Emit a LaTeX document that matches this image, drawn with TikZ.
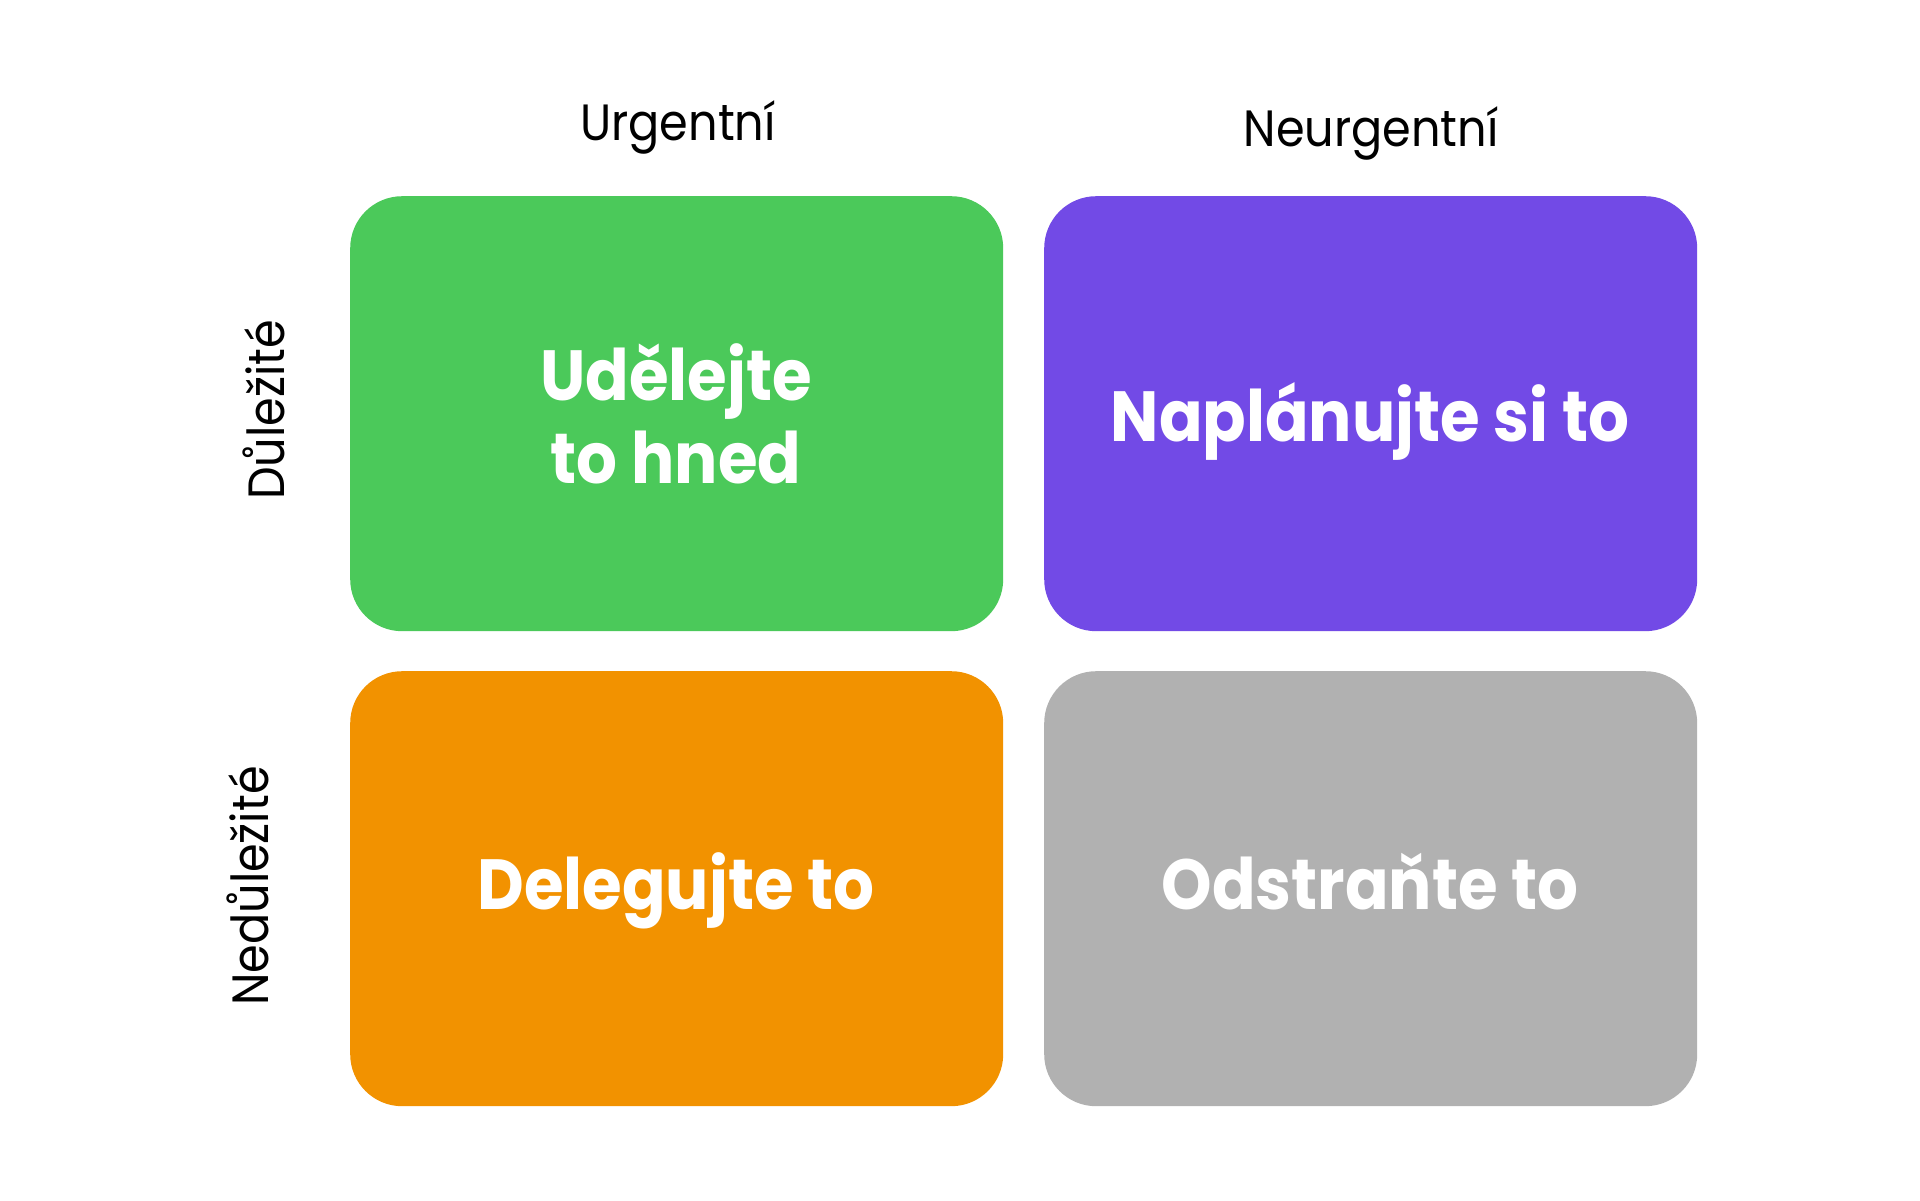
\documentclass[tikz,border=0pt]{standalone}
\usepackage{fontspec}
\setmainfont{Poppins}[FakeStretch=0.905]
\definecolor{qgreen}{HTML}{4BC95A}
\definecolor{qpurple}{HTML}{724AE6}
\definecolor{qorange}{HTML}{F29200}
\definecolor{qgray}{HTML}{B1B1B1}
\tikzset{
  quad/.style={rounded corners=52pt, minimum width=653pt, minimum height=435pt, inner sep=0pt, draw=none, anchor=north west},
  qlabel/.style={text=white, font=\bfseries\fontsize{71}{85}\selectfont, anchor=base, inner sep=0pt},
  hlabel/.style={text=black, font=\fontsize{51}{60}\selectfont, anchor=base, inner sep=0pt}
}
\begin{document}
\begin{tikzpicture}[x=1pt,y=-1pt]
\useasboundingbox[fill=white] (0,0) rectangle (1920,1200);
\node[quad, fill=qgreen] (q1) at (350,196) {};
\node[quad, fill=qpurple] (q2) at (1044,196) {};
\node[quad, fill=qorange] (q3) at (350,671) {};
\node[quad, fill=qgray] (q4) at (1044,671) {};
\node[qlabel] (t1a) at (676,400) {Udělejte};
\node[qlabel] (t1b) at (676,483) {to hned};
\node[qlabel] (t2) at (1370,441) {Naplánujte si to};
\node[qlabel] (t3) at (676,909) {Delegujte to};
\node[qlabel] (t4) at (1370,909) {Odstraňte to};
\node[hlabel] (h1) at (678,140) {Urgentní};
\node[hlabel] (h2) at (1371,146) {Neurgentní};
\node[hlabel, rotate=90] (v1) at (284,410) {Důležité};
\node[hlabel, rotate=90] (v2) at (268,886) {Nedůležité};
\end{tikzpicture}
\end{document}
